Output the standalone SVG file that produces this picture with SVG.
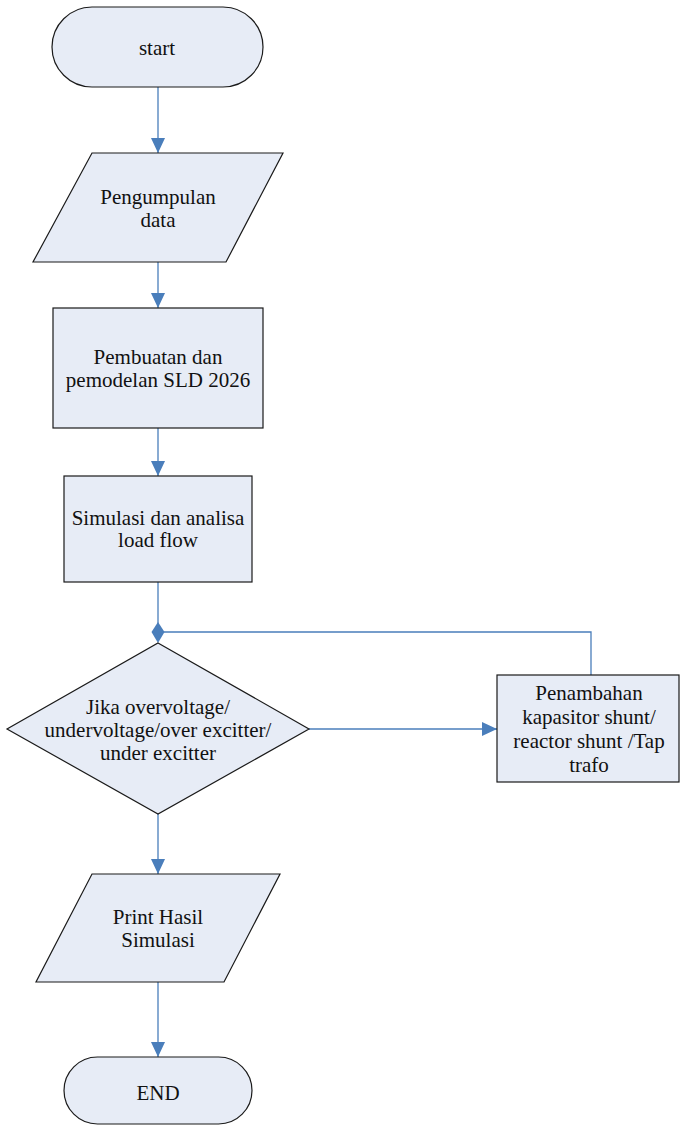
<svg xmlns="http://www.w3.org/2000/svg" width="680" height="1127" viewBox="0 0 680 1127">
<style>
.n{fill:#e7ecf6;stroke:#1a1a1a;stroke-width:1.2}
.t{font-family:"Liberation Serif","Times New Roman",serif;font-size:21px;fill:#111;text-anchor:middle}
.c{fill:none;stroke:#4a7ebb;stroke-width:1.3}
</style>
<defs>
<marker id="ah" markerUnits="userSpaceOnUse" markerWidth="16" markerHeight="16" refX="15" refY="7" orient="auto">
<path d="M0,0 L15,7 L0,14 Z" fill="#4a7ebb"/>
</marker>
</defs>
<rect width="680" height="1127" fill="#fff"/>
<g id="connectors">
<line class="c" x1="158" y1="87" x2="158" y2="153" marker-end="url(#ah)"/>
<line class="c" x1="158" y1="262" x2="158" y2="308" marker-end="url(#ah)"/>
<line class="c" x1="158" y1="428" x2="158" y2="476" marker-end="url(#ah)"/>
<line class="c" x1="158" y1="582" x2="158" y2="632"/>
<polyline class="c" points="591,675 591,632 158,632"/>
<polygon points="158,622 164.5,632 158,643 151.5,632" fill="#4a7ebb"/>
<line class="c" x1="309" y1="729" x2="497" y2="729" marker-end="url(#ah)"/>
<line class="c" x1="158" y1="814" x2="158" y2="874" marker-end="url(#ah)"/>
<line class="c" x1="158" y1="982" x2="158" y2="1057" marker-end="url(#ah)"/>
</g>
<g id="start">
<rect class="n" x="52" y="7" width="211" height="80" rx="40" ry="40"/>
<text class="t" x="157" y="55">start</text>
</g>
<g id="data">
<polygon class="n" points="92,153 283,153 226,262 33,262"/>
<text class="t" x="158" y="204">Pengumpulan</text>
<text class="t" x="158" y="227">data</text>
</g>
<g id="sld">
<rect class="n" x="53" y="308" width="210" height="120"/>
<text class="t" x="158" y="364">Pembuatan dan</text>
<text class="t" x="158" y="387">pemodelan SLD 2026</text>
</g>
<g id="loadflow">
<rect class="n" x="64" y="476" width="188" height="106"/>
<text class="t" x="158" y="525">Simulasi dan analisa</text>
<text class="t" x="158" y="547">load flow</text>
</g>
<g id="decision">
<polygon class="n" points="158,643 309,729 158,814 7,729"/>
<text class="t" x="158" y="714">Jika overvoltage/</text>
<text class="t" x="158" y="737">undervoltage/over excitter/</text>
<text class="t" x="158" y="760">under excitter</text>
</g>
<g id="penambahan">
<rect class="n" x="497" y="675" width="182" height="107"/>
<text class="t" x="589" y="700">Penambahan</text>
<text class="t" x="589" y="724">kapasitor shunt/</text>
<text class="t" x="589" y="748">reactor shunt /Tap</text>
<text class="t" x="589" y="772">trafo</text>
</g>
<g id="print">
<polygon class="n" points="92,874 280,874 224,982 36,982"/>
<text class="t" x="158" y="924">Print Hasil</text>
<text class="t" x="158" y="947">Simulasi</text>
</g>
<g id="end">
<rect class="n" x="64" y="1057" width="188" height="67" rx="33.5" ry="33.5"/>
<text class="t" x="158" y="1100">END</text>
</g>
</svg>
